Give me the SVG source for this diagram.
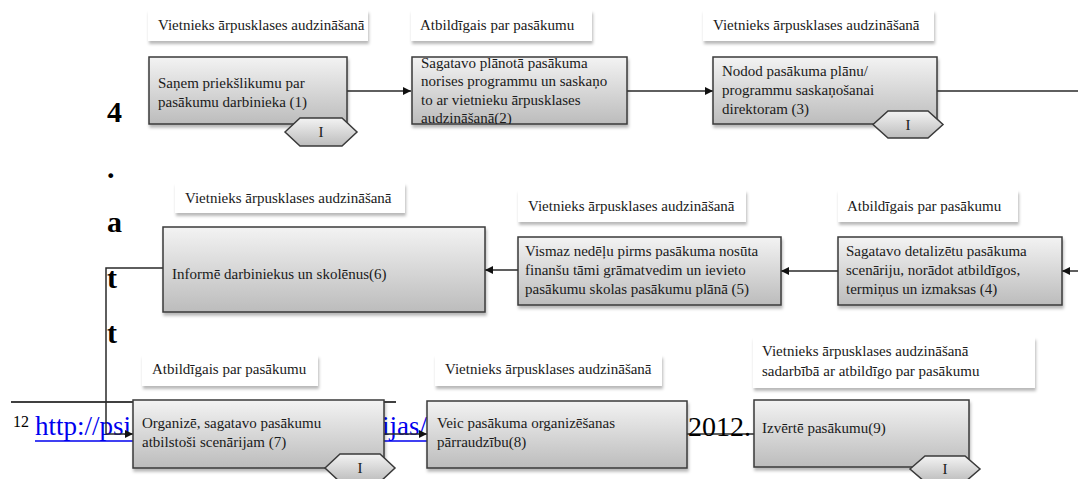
<svg xmlns="http://www.w3.org/2000/svg" width="1078" height="479" viewBox="0 0 1078 479">
<defs>
<linearGradient id="gbox" x1="0" y1="0" x2="0" y2="1">
<stop offset="0" stop-color="#f3f3f3"/>
<stop offset="1" stop-color="#bcbcbc"/>
</linearGradient>
<filter id="sh" x="-10%" y="-20%" width="120%" height="150%">
<feDropShadow dx="1" dy="3" stdDeviation="1.5" flood-color="#000" flood-opacity="0.28"/>
</filter>
<marker id="arr" viewBox="0 0 10 10" refX="10" refY="5" markerWidth="8" markerHeight="8" markerUnits="userSpaceOnUse" orient="auto">
<path d="M0,0 L10,5 L0,10 z" fill="#111"/>
</marker>
<clipPath id="clip2"><rect x="412" y="57" width="215" height="67"/></clipPath>
</defs>
<style>
.lab{fill:#fff;filter:url(#sh)}
.box{fill:url(#gbox);stroke:#3a3a3a;stroke-width:1.5;filter:url(#sh)}
.hex{fill:url(#gbox);stroke:#3a3a3a;stroke-width:1.5}
.t{font-family:"Liberation Serif","Times New Roman",serif;font-size:15px;fill:#1a1a1a}
.hi{font-family:"Liberation Serif","Times New Roman",serif;font-size:15px;fill:#1a1a1a;text-anchor:middle}
.con{fill:none;stroke:#2a2a2a;stroke-width:1.5}
.big{font-family:"Liberation Serif","Times New Roman",serif;font-size:30px;font-weight:bold;fill:#000}
.doc{font-family:"Liberation Serif","Times New Roman",serif;font-size:27px;fill:#000}
</style>

<g id="document-text">
<text class="big" x="107" y="122">4</text>
<text class="big" x="107" y="178">.</text>
<text class="big" x="107" y="232">a</text>
<text class="big" x="107" y="288">t</text>
<text class="big" x="107" y="343">t</text>
<line x1="11" y1="402" x2="396" y2="402" stroke="#000" stroke-width="1.5"/>
<text class="doc" x="13" y="427" style="font-size:16px">12</text>
<text class="doc" x="35" y="435" style="fill:#0000ee">http://psi</text>
<text class="doc" x="382" y="435" style="fill:#0000ee">ijas/</text>
<line x1="35" y1="441" x2="427" y2="441" stroke="#0000ee" stroke-width="1.5"/>
</g>

<g id="connectors">
<path class="con" d="M347,91 H411" marker-end="url(#arr)"/>
<path class="con" d="M627,91 H713" marker-end="url(#arr)"/>
<path class="con" d="M937,91 H1078"/>
<path class="con" d="M1078,271 H1062" marker-end="url(#arr)"/>
<path class="con" d="M838,271 H781" marker-end="url(#arr)"/>
<path class="con" d="M518,270 H485" marker-end="url(#arr)"/>
<path class="con" d="M163,268 H106 V434 H133" marker-end="url(#arr)"/>
<path class="con" d="M384,434 H427" marker-end="url(#arr)"/>
<path class="con" d="M687,434 H754"/>
</g>

<g id="node1">
<rect class="lab" x="148" y="10" width="220" height="31"/>
<text class="t" x="158" y="30">Vietnieks ārpusklases audzināšanā</text>
<rect class="box" x="149" y="57" width="198" height="67"/>
<text class="t" x="158" y="88">Saņem priekšlikumu par</text>
<text class="t" x="158" y="107">pasākumu darbinieka (1)</text>
<polygon class="hex" points="285,132 300,118 342,118 357,132 342,146 300,146"/>
<text class="hi" x="321" y="137">I</text>
</g>

<g id="node2">
<rect class="lab" x="411" y="10" width="181" height="31"/>
<text class="t" x="420" y="30">Atbildīgais par pasākumu</text>
<rect class="box" x="412" y="57" width="215" height="67"/>
<g clip-path="url(#clip2)">
<text class="t" x="421" y="67.5">Sagatavo plānotā pasākuma</text>
<text class="t" x="421" y="86">norises programmu  un saskaņo</text>
<text class="t" x="421" y="104.5">to ar vietnieku ārpusklases</text>
<text class="t" x="421" y="123">audzināšanā(2)</text>
</g>
</g>

<g id="node3">
<rect class="lab" x="703" y="10" width="231" height="31"/>
<text class="t" x="713" y="30">Vietnieks ārpusklases audzināšanā</text>
<rect class="box" x="713" y="57" width="224" height="67"/>
<text class="t" x="722" y="76">Nodod pasākuma plānu/</text>
<text class="t" x="722" y="95">programmu saskaņošanai</text>
<text class="t" x="722" y="114">direktoram (3)</text>
<polygon class="hex" points="873,124.5 888,111 928,111 943,124.5 928,138 888,138"/>
<text class="hi" x="908" y="129.5">I</text>
</g>

<g id="node4">
<rect class="lab" x="838" y="190" width="180" height="32"/>
<text class="t" x="847" y="211">Atbildīgais par pasākumu</text>
<rect class="box" x="838" y="237" width="224" height="68"/>
<text class="t" x="846" y="256">Sagatavo detalizētu pasākuma</text>
<text class="t" x="846" y="275">scenāriju, norādot atbildīgos,</text>
<text class="t" x="846" y="294">termiņus un izmaksas (4)</text>
</g>

<g id="node5">
<rect class="lab" x="518" y="190" width="228" height="32"/>
<text class="t" x="528" y="211">Vietnieks ārpusklases audzināšanā</text>
<rect class="box" x="518" y="237" width="263" height="68"/>
<text class="t" x="525" y="256">Vismaz nedēļu pirms pasākuma nosūta</text>
<text class="t" x="525" y="275">finanšu tāmi grāmatvedim un ievieto</text>
<text class="t" x="525" y="294">pasākumu skolas pasākumu plānā (5)</text>
</g>

<g id="node6">
<rect class="lab" x="175" y="183" width="230" height="30"/>
<text class="t" x="185" y="203">Vietnieks ārpusklases audzināšanā</text>
<rect class="box" x="163" y="227" width="322" height="85"/>
<text class="t" x="172" y="279">Informē darbiniekus un skolēnus(6)</text>
</g>

<g id="node7">
<rect class="lab" x="142" y="355" width="176" height="31"/>
<text class="t" x="152" y="374">Atbildīgais par pasākumu</text>
<rect class="box" x="133" y="400" width="251" height="68"/>
<text class="t" x="142" y="428">Organizē, sagatavo pasākumu</text>
<text class="t" x="142" y="447">atbilstoši scenārijam (7)</text>
<polygon class="hex" points="325,468 340,454 380,454 395,468 380,482 340,482"/>
<text class="hi" x="360" y="473">I</text>
</g>

<g id="node8">
<rect class="lab" x="435" y="355" width="227" height="31"/>
<text class="t" x="445" y="374">Vietnieks ārpusklases audzināšanā</text>
<rect class="box" x="427" y="401" width="260" height="67"/>
<text class="t" x="437" y="428">Veic pasākuma organizēšanas</text>
<text class="t" x="437" y="447">pārraudzību(8)</text>
</g>

<g id="node9">
<rect class="lab" x="753" y="337" width="282" height="51"/>
<text class="t" x="762" y="356">Vietnieks ārpusklases audzināšanā</text>
<text class="t" x="762" y="376">sadarbībā ar atbildīgo par pasākumu</text>
<rect class="box" x="754" y="400" width="215" height="67"/>
<text class="t" x="762" y="433">Izvērtē pasākumu(9)</text>
<polygon class="hex" points="910,469 925,456 965,456 980,469 965,482 925,482"/>
<text class="hi" x="945" y="474">I</text>
</g>

<text class="doc" x="688" y="436" style="font-size:28px">2012.</text>
</svg>
